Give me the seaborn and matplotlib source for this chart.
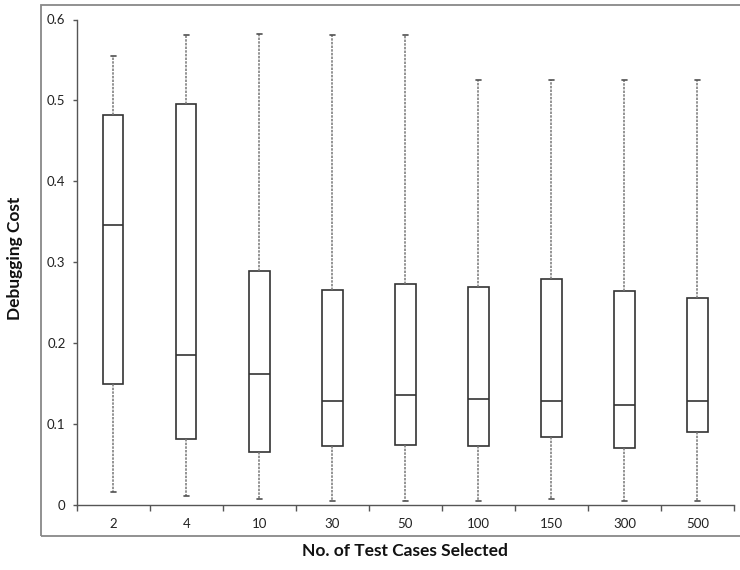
import numpy as np
import pandas as pd
import seaborn as sns
import matplotlib
matplotlib.use("Agg")
import matplotlib.pyplot as plt
from matplotlib.patches import Rectangle
from matplotlib.ticker import FuncFormatter, FixedLocator

categories = ["2", "4", "10", "30", "50", "100", "150", "300", "500"]
whisker_low = [0.0155, 0.011, 0.007, 0.0043, 0.0047, 0.0043, 0.0064, 0.0043, 0.0043]
q1 = [0.149, 0.081, 0.065, 0.0728, 0.074, 0.0724, 0.084, 0.0695, 0.090]
median = [0.346, 0.185, 0.161, 0.1277, 0.135, 0.131, 0.1277, 0.1228, 0.1277]
q3 = [0.482, 0.495, 0.289, 0.2655, 0.273, 0.269, 0.279, 0.264, 0.256]
whisker_high = [0.555, 0.581, 0.582, 0.581, 0.581, 0.525, 0.525, 0.525, 0.525]
y_ticks = [0, 0.1, 0.2, 0.3, 0.4, 0.5, 0.6]

# five summary values per category -> linear percentiles reproduce them exactly
rows = []
for c, a, b, m, d, e in zip(categories, whisker_low, q1, median, q3, whisker_high):
    for v in (a, b, m, d, e):
        rows.append({"n": c, "cost": v})
df = pd.DataFrame(rows)

sns.set_style("white")
plt.rcParams["font.family"] = ["Lato", "DejaVu Sans"]

fig = plt.figure(figsize=(7.4, 5.7), dpi=100)
ax = fig.add_axes([76.7 / 740, 1 - 504.5 / 570, (734 - 76.7) / 740, (504.5 - 19.5) / 570])

box_col = "#333333"
cap_col = "#505050"
sns.boxplot(
    data=df, x="n", y="cost", order=categories, ax=ax,
    whis=(0, 100), width=0.28, color="white", fliersize=0,
    boxprops=dict(facecolor="white", edgecolor=box_col, linewidth=1.2),
    medianprops=dict(color=box_col, linewidth=1.2),
    whiskerprops=dict(color="#777777", linewidth=1.1, linestyle=(0, (1.6, 0.8))),
    capprops=dict(color=cap_col, linewidth=1.2),
)

# narrow the caps
for ln in ax.lines:
    xd = np.asarray(ln.get_xdata(), dtype=float)
    yd = np.asarray(ln.get_ydata(), dtype=float)
    if len(xd) == 2 and yd[0] == yd[1] and matplotlib.colors.to_hex(ln.get_color()) == cap_col:
        cx = xd.mean()
        ln.set_xdata([cx - 0.035, cx + 0.035])

ax.set_ylim(0, 0.6)
ax.set_xlim(-0.5, len(categories) - 0.5)
ax.yaxis.set_major_locator(FixedLocator(y_ticks))
ax.yaxis.set_major_formatter(FuncFormatter(lambda v, p: "%g" % v))

for s in ["top", "right"]:
    ax.spines[s].set_visible(False)
for s in ["left", "bottom"]:
    ax.spines[s].set_color("#555555")
    ax.spines[s].set_linewidth(1.0)

ax.tick_params(axis="y", which="major", left=True, length=3, width=1, color="#555555",
               labelsize=9.5, labelcolor="#222222", pad=5)
ax.tick_params(axis="x", which="major", bottom=False, length=0, labelsize=9.5,
               labelcolor="#222222", pad=10)
ax.set_xticks(np.arange(-0.5, len(categories), 1.0), minor=True)
ax.tick_params(axis="x", which="minor", bottom=True, length=4, width=1, color="#555555")

ax.set_xlabel("")
ax.set_ylabel("")
fig.text(405 / 740, 1 - 551 / 570, "No. of Test Cases Selected", ha="center", va="center",
         fontsize=12.5, fontweight="bold", color="#111111")
fig.text(15 / 740, 1 - 258 / 570, "Debugging Cost", ha="center", va="center", rotation=90,
         fontsize=12.5, fontweight="bold", color="#111111")

frame = Rectangle((40.7 / 740, 1 - 535.7 / 570), 1.0, (535.7 - 5) / 570,
                  transform=fig.transFigure, fill=False, edgecolor="#888888",
                  linewidth=1.3, clip_on=False)
fig.patches.append(frame)

fig.savefig("out.png", dpi=100)
